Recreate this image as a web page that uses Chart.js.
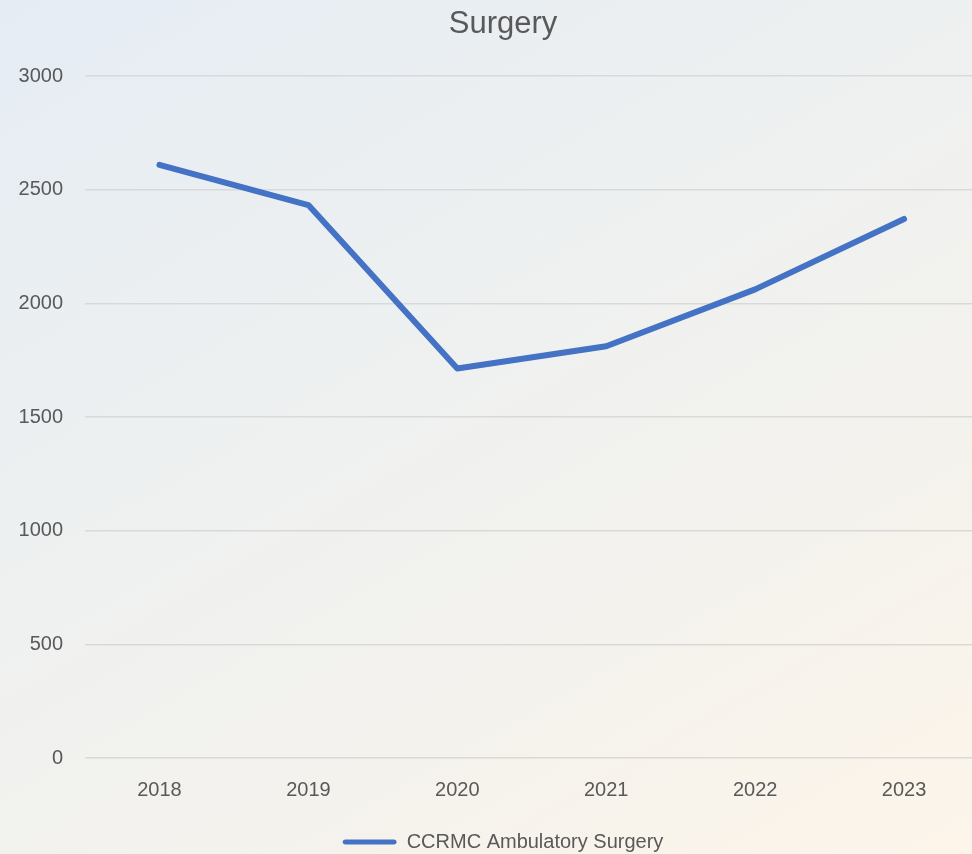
<!DOCTYPE html>
<html>
<head>
<meta charset="utf-8">
<title>Surgery</title>
<script src="https://cdn.jsdelivr.net/npm/chart.js@4/dist/chart.umd.min.js"></script>
<style>
    html, body {
        margin: 0;
        padding: 0;
        width: 972px;
        height: 854px;
        overflow: hidden;
        background: linear-gradient(150deg, #e5ecf4 0%, #eff1f0 45%, #f4f2ed 70%, #fdf5ea 100%);
    }
    .wrap {
        position: absolute;
        left: 0;
        top: 0;
        width: 992px;
        height: 854px;
    }
</style>
</head>
<body>
<div class="wrap"><canvas id="surgeryChart"></canvas></div>
<script>
// chart values
const years = ['2018', '2019', '2020', '2021', '2022', '2023'];
const surgeryCounts = [2610, 2433, 1714, 1812, 2062, 2372];
const seriesName = 'CCRMC Ambulatory Surgery';
const yMin = 0;
const yMax = 3000;
const yStep = 500;

const textColor = '#595959';
const lineColor = '#4472C4';
const fontFamily = "'Liberation Sans', 'Noto Sans', Arial, sans-serif";

const ctx = document.getElementById('surgeryChart');
new Chart(ctx, {
    type: 'line',
    data: {
        labels: years,
        datasets: [{
            label: seriesName,
            data: surgeryCounts,
            borderColor: lineColor,
            backgroundColor: lineColor,
            borderWidth: 6,
            borderCapStyle: 'round',
            borderJoinStyle: 'round',
            pointRadius: 0,
            tension: 0,
            fill: false
        }]
    },
    options: {
        responsive: true,
        maintainAspectRatio: false,
        animation: false,
        layout: { padding: { left: 14, right: 0, top: 0, bottom: -8 } },
        plugins: {
            title: {
                display: true,
                text: 'Surgery',
                color: textColor,
                font: { family: fontFamily, size: 31, weight: 'normal' },
                padding: { top: 6, bottom: 33 }
            },
            legend: {
                position: 'bottom',
                labels: {
                    color: textColor,
                    font: { family: fontFamily, size: 20 },
                    boxWidth: 54,
                    boxHeight: 5,
                    padding: 10,
                    useBorderRadius: true,
                    borderRadius: 3,
                    generateLabels(chart) {
                        const items = Chart.defaults.plugins.legend.labels.generateLabels(chart);
                        items.forEach(it => {
                            it.lineWidth = 0;
                            it.fillStyle = lineColor;
                            it.borderRadius = 3;
                        });
                        return items;
                    }
                }
            },
            tooltip: { enabled: false }
        },
        scales: {
            x: {
                offset: true,
                grid: { display: false, drawTicks: false },
                border: { display: false },
                ticks: {
                    color: textColor,
                    font: { family: fontFamily, size: 20 },
                    padding: 20,
                    maxRotation: 0
                }
            },
            y: {
                min: yMin,
                max: yMax,
                grid: { color: '#d9d9d9', lineWidth: 1.5, drawTicks: false },
                border: { display: false },
                ticks: {
                    stepSize: yStep,
                    color: textColor,
                    font: { family: fontFamily, size: 20 },
                    padding: 22,
                    callback: v => String(v)
                },
                afterFit(scale) { scale.width = 71; }
            },
            // empty right-hand box so the plot runs past the window edge like the reference
            yRight: {
                position: 'right',
                display: true,
                grid: { display: false, drawTicks: false },
                border: { display: false },
                ticks: { display: false },
                afterFit(scale) { scale.width = 13.5; }
            }
        }
    }
});
</script>
</body>
</html>
